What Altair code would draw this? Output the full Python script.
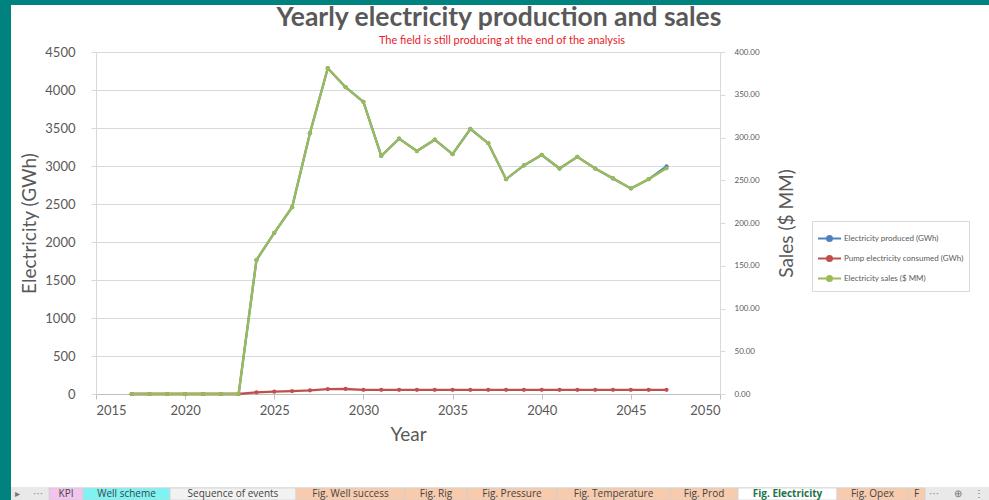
import altair as alt
import pandas as pd

# ---------------- data ----------------
years = [2017, 2018, 2019, 2020, 2021, 2022, 2023, 2024, 2025, 2026, 2027, 2028,
         2029, 2030, 2031, 2032, 2033, 2034, 2035, 2036, 2037, 2038, 2039, 2040,
         2041, 2042, 2043, 2044, 2045, 2046, 2047]
produced = [0, 0, 0, 0, 0, 0, 0, 1763, 2120, 2458, 3432, 4287,
            4037, 3844, 3132, 3360, 3197, 3346, 3156, 3487, 3300, 2827, 3008, 3145,
            2967, 3120, 2967, 2837, 2705, 2827, 2995]
pump = [0, 0, 0, 0, 0, 0, 0, 22, 30, 38, 48, 65,
        66, 55, 55, 55, 55, 55, 55, 55, 55, 55, 55, 55,
        55, 55, 55, 55, 55, 55, 55]
sales = [0, 0, 0, 0, 0, 0, 0, 156.7, 188.5, 218.5, 305.1, 381.1,
         358.9, 341.7, 278.4, 298.7, 284.2, 297.4, 280.5, 310.0, 293.3, 251.3, 267.4, 279.6,
         263.7, 277.3, 263.7, 252.2, 240.4, 251.3, 264.0]

series_names = ["Electricity produced (GWh)", "Pump electricity consumed (GWh)",
                "Electricity sales ($ MM)"]
series_colors = ["#4F81BD", "#C0504D", "#9BBB59"]

x_ticks = [2015, 2020, 2025, 2030, 2035, 2040, 2045, 2050]
y_left_ticks = [0, 500, 1000, 1500, 2000, 2500, 3000, 3500, 4000, 4500]
y_right_ticks = [0, 50, 100, 150, 200, 250, 300, 350, 400]

title_text = "Yearly electricity production and sales"
subtitle_text = "The field is still producing at the end of the analysis"

tab_names = ["KPI", "Well scheme", "Sequence of events", "Fig. Well success", "Fig. Rig",
             "Fig. Pressure", "Fig. Temperature", "Fig. Prod", "Fig. Electricity",
             "Fig. Opex", "F"]
tab_fills = ["#F2C4EE", "#7DF3F3", "#F2F2F2", "#F8CBAD", "#F8CBAD", "#F8CBAD",
             "#F8CBAD", "#F8CBAD", "#FFFFFF", "#F8CBAD", "#F8CBAD"]
active_tab = "Fig. Electricity"

# ---------------- layout (pixels) ----------------
W, H = 989, 500
PAD_L, PAD_T = 96, 52
PW, PH = 624, 342
tab_edges = [49, 83, 170, 296, 405, 467, 557, 670, 738, 837, 908, 925]
TEAL = "#00827F"
GREY = "#595959"
FONT = "Lato"

# ---------------- chart data frames ----------------
left_df = pd.DataFrame({
    "year": years + years,
    "value": produced + pump,
    "series": [series_names[0]] * len(years) + [series_names[1]] * len(years),
})
right_df = pd.DataFrame({
    "year": years,
    "value": sales,
    "series": [series_names[2]] * len(years),
})

legend_symbol = "M-1,0L1,0M-0.22,0a0.22,0.22 0 1,0 0.44,0a0.22,0.22 0 1,0 -0.44,0"
legend = alt.Legend(
    title=None, orient="none", legendX=812 - PAD_L, legendY=221 - PAD_T,
    symbolType=legend_symbol, symbolSize=529, symbolStrokeWidth=2,
    labelFontSize=8, labelColor=GREY, labelFont=FONT, labelLimit=300, labelOffset=2,
    rowPadding=-8, padding=5, strokeColor="#D9D9D9", fillColor="white",
)
color = alt.Color("series:N", sort=series_names,
                  scale=alt.Scale(domain=series_names, range=series_colors),
                  legend=legend)

x_enc = alt.X("year:Q", scale=alt.Scale(domain=[2015, 2050], nice=False, zero=False),
              axis=alt.Axis(values=x_ticks, format="d", title="Year", grid=False,
                            labelFontSize=13, labelColor=GREY, labelFont=FONT,
                            titleFontSize=19, titleFontWeight="normal", titleColor=GREY,
                            titleFont=FONT, titlePadding=8,
                            domainColor="#BFBFBF", tickColor="#BFBFBF", tickSize=5,
                            labelPadding=5))

point = alt.OverlayMarkDef(size=18, filled=True, opacity=1)

left = alt.Chart(left_df).mark_line(point=point, strokeWidth=2.3).encode(
    x=x_enc,
    y=alt.Y("value:Q", scale=alt.Scale(domain=[0, 4500], nice=False),
            axis=alt.Axis(values=y_left_ticks, orient="left", title="Electricity (GWh)",
                          format="d",
                          grid=True, gridColor="#D9D9D9", domainColor="#D9D9D9",
                          tickColor="#D9D9D9", tickSize=5, labelPadding=16,
                          labelFontSize=13, labelColor=GREY, labelFont=FONT,
                          titleFontSize=19, titleFontWeight="normal", titleColor=GREY,
                          titleFont=FONT, titlePadding=5)),
    color=color,
)

right = alt.Chart(right_df).mark_line(point=point, strokeWidth=2.3).encode(
    x=x_enc,
    y=alt.Y("value:Q", scale=alt.Scale(domain=[0, 400], nice=False),
            axis=alt.Axis(values=y_right_ticks, orient="right", title="Sales ($ MM)",
                          format=".2f", grid=False, domainColor="#D9D9D9",
                          tickColor="#D9D9D9", tickSize=5, labelPadding=9,
                          labelFontSize=8, labelColor=GREY, labelFont=FONT,
                          titleFontSize=19, titleFontWeight="normal", titleColor=GREY,
                          titleFont=FONT, titlePadding=37, titleAngle=270)),
    color=color,
)

# ---------------- title (as text marks) ----------------
title_df = pd.DataFrame({
    "t": [title_text, subtitle_text],
    "x": [499 - PAD_L, 502 - PAD_L],
    "y": [18 - PAD_T, 41 - PAD_T],
})
title_main = alt.Chart(title_df).transform_filter(
    alt.datum.t == title_text
).mark_text(fontSize=26.5, font=FONT, fontWeight="bold", color=GREY, baseline="middle").encode(
    x=alt.X("x:Q", scale=None, axis=None),
    y=alt.Y("y:Q", scale=None, axis=None),
    text="t:N",
)
title_sub = alt.Chart(title_df).transform_filter(
    alt.datum.t == subtitle_text
).mark_text(fontSize=11, font=FONT, color="#E8202A", baseline="middle").encode(
    x=alt.X("x:Q", scale=None, axis=None),
    y=alt.Y("y:Q", scale=None, axis=None),
    text="t:N",
)

# ---------------- window decoration (Excel frame & sheet tabs) ----------------
frame_df = pd.DataFrame({
    "x": [0, 0, 11],
    "x2": [11, W, W],
    "y": [0, 0, 487],
    "y2": [H, 5, H],
    "fill": [TEAL, TEAL, "#E9E9E9"],
})
frame_df["x"] -= PAD_L
frame_df["x2"] -= PAD_L
frame_df["y"] -= PAD_T
frame_df["y2"] -= PAD_T

frame = alt.Chart(frame_df).mark_rect().encode(
    x=alt.X("x:Q", scale=None, axis=None),
    x2="x2:Q",
    y=alt.Y("y:Q", scale=None, axis=None),
    y2="y2:Q",
    fill=alt.Fill("fill:N", scale=None, legend=None),
)

tabs_df = pd.DataFrame({
    "name": tab_names,
    "x": [e - PAD_L for e in tab_edges[:-1]],
    "x2": [e - PAD_L for e in tab_edges[1:]],
    "xc": [(a + b) / 2 - PAD_L for a, b in zip(tab_edges[:-1], tab_edges[1:])],
    "fill": tab_fills,
})
tabs_df["y"] = 488 - PAD_T
tabs_df["y2"] = H - PAD_T
tabs_df["yt"] = 494 - PAD_T
tabs_df["ink"] = ["#217346" if n == active_tab else "#444444" for n in tab_names]

tab_rects = alt.Chart(tabs_df).mark_rect(stroke="#D0D0D0", strokeWidth=0.8).encode(
    x=alt.X("x:Q", scale=None, axis=None), x2="x2:Q",
    y=alt.Y("y:Q", scale=None, axis=None), y2="y2:Q",
    fill=alt.Fill("fill:N", scale=None, legend=None),
)
tab_text = alt.Chart(tabs_df).transform_filter(
    alt.datum.name != active_tab
).mark_text(fontSize=10, font="Open Sans", baseline="middle").encode(
    x=alt.X("xc:Q", scale=None, axis=None),
    y=alt.Y("yt:Q", scale=None, axis=None),
    text="name:N",
    fill=alt.Fill("ink:N", scale=None, legend=None),
)
tab_text_active = alt.Chart(tabs_df).transform_filter(
    alt.datum.name == active_tab
).mark_text(fontSize=10, font="Open Sans", fontWeight="bold", baseline="middle").encode(
    x=alt.X("xc:Q", scale=None, axis=None),
    y=alt.Y("yt:Q", scale=None, axis=None),
    text="name:N",
    fill=alt.Fill("ink:N", scale=None, legend=None),
)

nav_df = pd.DataFrame({
    "t": ["▸", "···", "···", "⊕", "⋮"],
    "x": [17, 38, 934, 958, 979],
})
nav_df["x"] -= PAD_L
nav_df["y"] = 494 - PAD_T
nav = alt.Chart(nav_df).mark_text(fontSize=10, color="#777777", baseline="middle").encode(
    x=alt.X("x:Q", scale=None, axis=None),
    y=alt.Y("y:Q", scale=None, axis=None),
    text="t:N",
)

chart = alt.layer(
    left, right, frame, tab_rects, tab_text, tab_text_active, nav, title_main, title_sub
).resolve_scale(
    y="independent"
).properties(
    width=PW, height=PH,
    autosize=alt.AutoSizeParams(type="none"),
    padding={"left": PAD_L, "top": PAD_T, "right": W - PAD_L - PW, "bottom": H - PAD_T - PH},
    background="white",
).configure_view(stroke=None)

chart.save("out.html", embed_options={"renderer": "svg", "actions": False})
